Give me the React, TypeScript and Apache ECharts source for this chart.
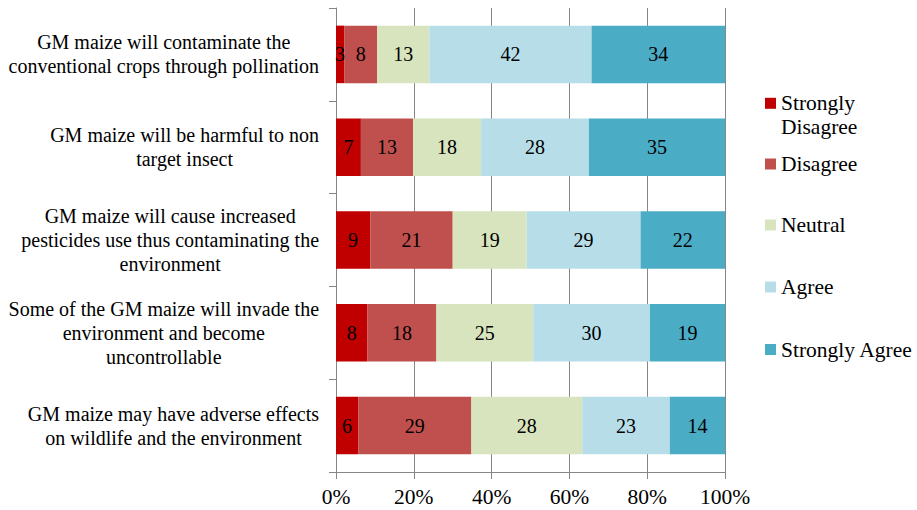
import React, { useEffect, useRef } from "react";
import * as echarts from "echarts";

const categories = [
  "GM maize will contaminate the\nconventional crops through pollination",
  "GM maize will be harmful to non\ntarget insect",
  "GM maize will cause increased\npesticides use thus contaminating the\nenvironment",
  "Some of the GM maize will invade the\nenvironment and become\nuncontrollable",
  "GM maize may have adverse effects\non wildlife and the environment",
];

const seriesNames = ["Strongly Disagree", "Disagree", "Neutral", "Agree", "Strongly Agree"];

// bar lengths (percent of respondents)
const stronglyDisagreePct = [2.1, 6.4, 8.8, 8.1, 5.7];
const disagreePct = [8.5, 13.4, 21.2, 17.7, 29.1];
const neutralPct = [13.4, 17.5, 19.0, 24.9, 28.5];
const agreePct = [41.7, 27.7, 29.3, 30.0, 22.5];
const stronglyAgreePct = [34.3, 35.0, 21.7, 19.3, 14.2];

// numbers printed on the bars
const stronglyDisagreeLabels = [3, 7, 9, 8, 6];
const disagreeLabels = [8, 13, 21, 18, 29];
const neutralLabels = [13, 18, 19, 25, 28];
const agreeLabels = [42, 28, 29, 30, 23];
const stronglyAgreeLabels = [34, 35, 22, 19, 14];

const xTicks = [0, 20, 40, 60, 80, 100];

const FONT = "Liberation Serif";
const colors = ["#C00000", "#C0504D", "#D7E4BD", "#B7DEE8", "#4BACC6"];

export default function App() {
  const ref = useRef<HTMLDivElement>(null);
  useEffect(() => {
    if (!ref.current) return;
    const chart = echarts.init(ref.current, undefined, { renderer: "svg" });
    const pcts = [stronglyDisagreePct, disagreePct, neutralPct, agreePct, stronglyAgreePct];
    const labels = [stronglyDisagreeLabels, disagreeLabels, neutralLabels, agreeLabels, stronglyAgreeLabels];
    const legendTops = [67.3, 152, 213, 275, 337.5];
    const option: any = {
      animation: false,
      backgroundColor: "#ffffff",
      textStyle: { fontFamily: FONT },
      grid: { left: 336, right: 192, top: 8, bottom: 38, containLabel: false },
      xAxis: {
        type: "value",
        min: xTicks[0],
        max: xTicks[xTicks.length - 1],
        interval: 20,
        axisLine: { show: true, lineStyle: { color: "#868686", width: 1 } },
        axisTick: { show: true, length: 7, lineStyle: { color: "#868686" } },
        splitLine: { show: true, lineStyle: { color: "#868686", width: 1 } },
        axisLabel: {
          formatter: "{value}%",
          fontSize: 21.5,
          fontFamily: FONT,
          color: "#000",
          margin: 14,
        },
      },
      yAxis: {
        type: "category",
        inverse: true,
        data: categories,
        axisLine: { show: true, lineStyle: { color: "#868686", width: 1 } },
        axisTick: { show: true, length: 7, lineStyle: { color: "#868686" } },
        splitLine: { show: false },
        axisLabel: {
          align: "right",
          margin: 17,
          fontFamily: FONT,
          fontSize: 20,
          formatter: (v: string) =>
            v
              .split("\n")
              .map((l) => "{c|" + l + "}")
              .join("\n"),
          rich: {
            c: { align: "center", fontSize: 20, lineHeight: 24, fontFamily: FONT, color: "#000" },
          },
        },
      },
      legend: seriesNames.map((name, i) => ({
        data: [name],
        orient: "vertical",
        left: 765,
        top: legendTops[i],
        padding: 0,
        itemGap: 0,
        itemWidth: 11,
        itemHeight: 11,
        icon: "rect",
        selectedMode: false,
        formatter: i === 0 ? "{e| }\n{t|Strongly}\n{t|Disagree}" : "{name}",
        textStyle: {
          fontSize: 21.5,
          lineHeight: 24,
          fontFamily: FONT,
          color: "#000",
          rich: {
            e: { fontSize: 21.5, lineHeight: 24, fontFamily: FONT },
            t: { fontSize: 21.5, lineHeight: 24, fontFamily: FONT, color: "#000" },
          },
        },
      })),
      series: seriesNames.map((name, si) => ({
        name,
        type: "bar",
        stack: "total",
        barCategoryGap: "38%",
        itemStyle: { color: colors[si] },
        label: {
          show: true,
          position: "inside",
          fontSize: 20,
          fontFamily: FONT,
          color: "#000",
          formatter: (p: any) => String(labels[si][p.dataIndex]),
        },
        data: pcts[si],
      })),
    };
    chart.setOption(option);
    return () => chart.dispose();
  }, []);
  return (
    <div
      ref={ref}
      style={{ position: "fixed", left: 0, top: 0, width: 917, height: 510, background: "#fff" }}
    />
  );
}
